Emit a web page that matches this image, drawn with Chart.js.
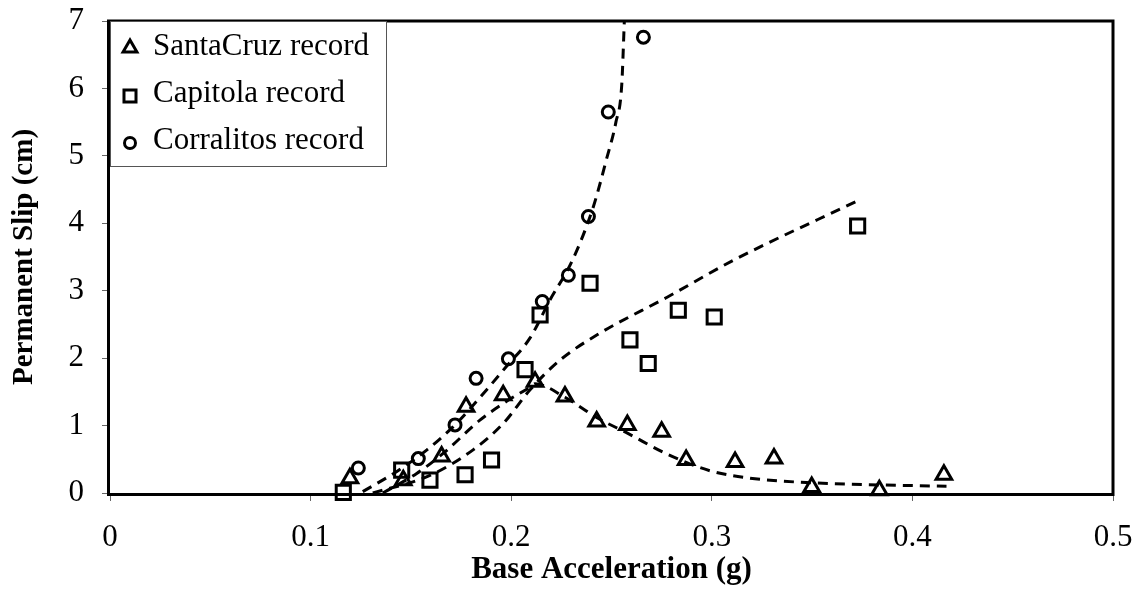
<!DOCTYPE html>
<html>
<head>
<meta charset="utf-8">
<script src="https://cdn.jsdelivr.net/npm/chart.js@4.4.1/dist/chart.umd.min.js"></script>
<style>
  html, body { margin: 0; padding: 0; background: #fff; }
  #wrap { width: 1144px; height: 594px; position: relative; }
</style>
</head>
<body>
<div id="wrap"><canvas id="c"></canvas></div>
<script>
// measured points, base acceleration (g) vs permanent slip (cm)
var santaCruzX = [0.1196, 0.1462, 0.1653, 0.1775, 0.196, 0.2119, 0.2268, 0.2426, 0.2579, 0.275, 0.2872, 0.3116, 0.331, 0.3498, 0.3835, 0.4157];
var santaCruzY = [0.22, 0.19, 0.54, 1.28, 1.45, 1.65, 1.43, 1.06, 1.01, 0.91, 0.49, 0.46, 0.51, 0.09, 0.04, 0.27];

var capitolaX = [0.1163, 0.1454, 0.1595, 0.177, 0.1902, 0.2069, 0.2144, 0.2393, 0.2592, 0.2683, 0.2833, 0.3012, 0.3727];
var capitolaY = [0.01, 0.34, 0.19, 0.27, 0.49, 1.83, 2.64, 3.11, 2.27, 1.92, 2.71, 2.61, 3.96];

var corralitosX = [0.1238, 0.1537, 0.172, 0.1825, 0.1986, 0.2155, 0.2285, 0.2385, 0.2484, 0.2659];
var corralitosY = [0.37, 0.51, 1.01, 1.70, 1.99, 2.84, 3.23, 4.10, 5.65, 6.76];

// dashed trend curves
var santaCruzFitX = [0.136, 0.1529, 0.1662, 0.1844, 0.1977, 0.2094, 0.2119, 0.2268, 0.2426, 0.2584, 0.2775, 0.2991, 0.319, 0.3506, 0.3838, 0.417];
var santaCruzFitY = [0.0, 0.29, 0.59, 1.08, 1.36, 1.57, 1.62, 1.42, 1.12, 0.88, 0.58, 0.33, 0.22, 0.15, 0.12, 0.1];

var capitolaFitX = [0.131, 0.1595, 0.181, 0.196, 0.2094, 0.2243, 0.2442, 0.2775, 0.3107, 0.3739];
var capitolaFitY = [0.0, 0.26, 0.64, 1.03, 1.53, 1.97, 2.37, 2.9, 3.45, 4.35];

var corralitosFitX = [0.126, 0.143, 0.158, 0.171, 0.1795, 0.1977, 0.2094, 0.2193, 0.2305, 0.241, 0.2475, 0.2522, 0.2551, 0.2564];
var corralitosFitY = [0.02, 0.32, 0.64, 0.98, 1.25, 1.88, 2.3, 2.86, 3.45, 4.25, 4.95, 5.5, 6.05, 7.0];

var xTicks = [0, 0.1, 0.2, 0.3, 0.4, 0.5];
var yTicks = [0, 1, 2, 3, 4, 5, 6, 7];

var LEGEND = [
  { text: 'SantaCruz record', style: 'triangle', radius: 8 },
  { text: 'Capitola record', style: 'rect', radius: 8.5 },
  { text: 'Corralitos record', style: 'circle', radius: 5.5 }
];

var SERIF = '"Liberation Serif", "Times New Roman", serif';

function pts(xs, ys) {
  return xs.map(function (x, i) { return { x: x, y: ys[i] }; });
}

function markerSet(label, xs, ys, style, r) {
  return {
    label: label,
    data: pts(xs, ys),
    showLine: false,
    pointStyle: style,
    pointRadius: r,
    pointBorderWidth: 3,
    pointBorderColor: '#000',
    pointBackgroundColor: 'rgba(0,0,0,0)',
    clip: false
  };
}

function fitSet(xs, ys) {
  return {
    label: '',
    data: pts(xs, ys),
    showLine: true,
    borderColor: '#000',
    borderWidth: 3,
    borderDash: [10, 7],
    pointRadius: 0,
    cubicInterpolationMode: 'monotone',
    fill: false
  };
}

// frame around the plot area
var framePlugin = {
  id: 'frame',
  afterDatasetsDraw: function (chart) {
    var a = chart.chartArea, ctx = chart.ctx;
    ctx.save();
    ctx.strokeStyle = '#000';
    ctx.lineWidth = 3;
    ctx.strokeRect(a.left - 1.5, a.top, a.right - a.left + 1.5, a.bottom - a.top + 1.5);
    ctx.restore();
  }
};

// boxed legend in the top-left corner
var legendPlugin = {
  id: 'boxLegend',
  afterDatasetsDraw: function (chart) {
    var a = chart.chartArea, ctx = chart.ctx;
    var bx = a.left, by = a.top, bw = 276, bh = 145;
    ctx.save();
    ctx.fillStyle = '#fff';
    ctx.fillRect(bx, by, bw, bh);
    ctx.strokeStyle = '#555';
    ctx.lineWidth = 1;
    ctx.strokeRect(bx + 0.5, by + 0.5, bw, bh);
    var baselines = [34, 81, 128];
    var mids = [27, 75, 122];
    LEGEND.forEach(function (item, i) {
      ctx.strokeStyle = '#000';
      ctx.fillStyle = 'rgba(0,0,0,0)';
      ctx.lineWidth = 3;
      Chart.helpers.drawPoint(ctx, { pointStyle: item.style, radius: item.radius, rotation: 0, borderWidth: 3 }, a.left + 20, a.top + mids[i]);
      ctx.fillStyle = '#000';
      ctx.font = '31px ' + SERIF;
      ctx.textBaseline = 'alphabetic';
      ctx.textAlign = 'left';
      ctx.fillText(item.text, a.left + 43, a.top + baselines[i]);
    });
    ctx.restore();
  }
};

new Chart(document.getElementById('c'), {
  type: 'scatter',
  data: {
    datasets: [
      fitSet(santaCruzFitX, santaCruzFitY),
      fitSet(capitolaFitX, capitolaFitY),
      fitSet(corralitosFitX, corralitosFitY),
      markerSet('SantaCruz record', santaCruzX, santaCruzY, 'triangle', 9),
      markerSet('Capitola record', capitolaX, capitolaY, 'rect', 10),
      markerSet('Corralitos record', corralitosX, corralitosY, 'circle', 6)
    ]
  },
  options: {
    responsive: true,
    maintainAspectRatio: false,
    animation: false,
    layout: { padding: { top: 21, right: 31, left: 0, bottom: 0 } },
    plugins: {
      legend: { display: false },
      tooltip: { enabled: false }
    },
    scales: {
      x: {
        type: 'linear',
        min: 0,
        max: 0.5,
        afterFit: function (s) { s.height = 101; s.paddingLeft = 0; s.paddingRight = 0; },
        afterBuildTicks: function (s) { s.ticks = xTicks.map(function (v) { return { value: v }; }); },
        ticks: {
          color: '#000',
          padding: 18,
          maxRotation: 0,
          font: { family: SERIF, size: 31 },
          callback: function (v) { return String(Math.round(v * 10) / 10); }
        },
        grid: { drawOnChartArea: false, drawTicks: true, tickLength: 8, tickColor: '#666', tickWidth: 1 },
        border: { display: false },
        title: {
          display: true,
          text: 'Base Acceleration (g)',
          color: '#000',
          font: { family: SERIF, size: 31, weight: 'bold' },
          padding: { top: 0, bottom: 5 }
        }
      },
      y: {
        type: 'linear',
        min: 0,
        max: 7,
        afterFit: function (s) { s.width = 110; s.paddingTop = 0; s.paddingBottom = 0; },
        afterBuildTicks: function (s) { s.ticks = yTicks.map(function (v) { return { value: v }; }); },
        ticks: {
          color: '#000',
          padding: 18,
          font: { family: SERIF, size: 31 }
        },
        grid: { drawOnChartArea: false, drawTicks: true, tickLength: 8, tickColor: '#666', tickWidth: 1 },
        border: { display: false },
        title: {
          display: true,
          text: 'Permanent Slip (cm)',
          color: '#000',
          font: { family: SERIF, size: 29, weight: 'bold' },
          padding: { top: 7, bottom: 0 }
        }
      }
    }
  },
  plugins: [framePlugin, legendPlugin]
});
</script>
</body>
</html>
